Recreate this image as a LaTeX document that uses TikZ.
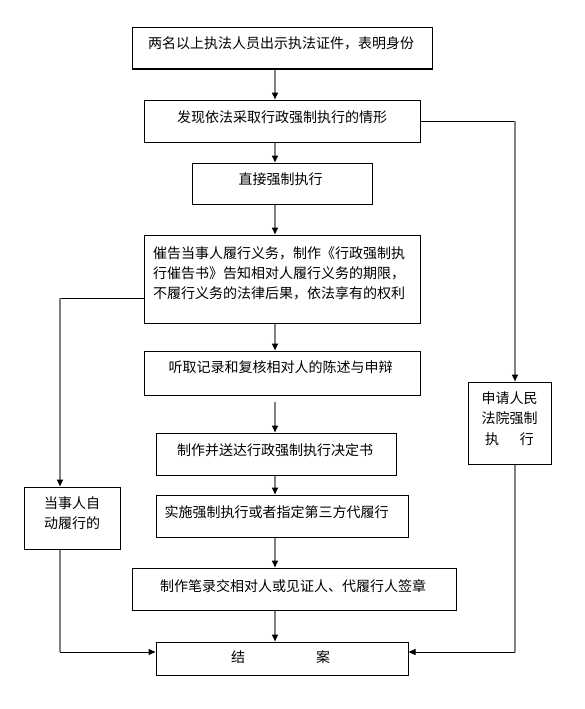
\documentclass[tikz,border=0pt]{standalone}
\usepackage{fontspec}
\setmainfont{Noto Sans CJK SC}
\usetikzlibrary{arrows.meta}
\definecolor{linegray}{HTML}{808080}
\begin{document}
\begin{tikzpicture}[x=1pt,y=-1pt,
  box/.style={draw=black,line width=1pt,inner sep=0pt},
  txt/.style={inner sep=0pt,font=\fontsize{14}{20}\selectfont,align=center},
  flow/.style={draw=linegray,line width=2pt,-{Triangle[length=7pt,width=6pt,color=black]}},
  grayline/.style={draw=linegray,line width=2pt},
  link/.style={draw=black,line width=1pt},
  linkarrow/.style={draw=black,line width=1pt,-{Triangle[length=7pt,width=6pt,color=black]}}]
\useasboundingbox (0,0) rectangle (584,709);
\fill[white] (0,0) rectangle (584,709);
% helper coordinates
\coordinate (mx) at (275,0);
\coordinate (rx) at (515,0);
\coordinate (lx) at (60,0);
\coordinate (yb) at (0,652);
% boxes
\node[box,minimum width=300pt,minimum height=41pt] (b1) at (282,48.5) {};
\node[box,minimum width=276pt,minimum height=42pt] (b2) at (282,121) {};
\node[box,minimum width=180pt,minimum height=41pt] (b3) at (282,183.5) {};
\node[box,minimum width=276pt,minimum height=88pt] (b4) at (282,279) {};
\node[box,minimum width=276pt,minimum height=44pt] (b5) at (282,373) {};
\node[box,minimum width=240pt,minimum height=42pt] (b6) at (276,454) {};
\node[box,minimum width=252pt,minimum height=42pt] (b7) at (282,516) {};
\node[box,minimum width=324pt,minimum height=42pt] (b8) at (294,589) {};
\node[box,minimum width=252pt,minimum height=33pt] (b9) at (282,658.5) {};
\node[box,minimum width=83pt,minimum height=82pt] (court) at (509.5,423) {};
\node[box,minimum width=96pt,minimum height=62pt] (self) at (72,518) {};
% texts
\node[txt] (t1) at (281,43) {两名以上执法人员出示执法证件，表明身份};
\node[txt] (t2) at (282,117) {发现依法采取行政强制执行的情形};
\node[txt] (t3) at (280.5,179) {直接强制执行};
\node[txt,align=left,anchor=west] (t4) at (153,273) {催告当事人履行义务，制作《行政强制执\\行催告书》告知相对人履行义务的期限，\\不履行义务的法律后果，依法享有的权利};
\node[txt] (t5) at (280.5,367) {听取记录和复核相对人的陈述与申辩};
\node[txt] (t6) at (275,450) {制作并送达行政强制执行决定书};
\node[txt] (t7) at (276.5,512) {实施强制执行或者指定第三方代履行};
\node[txt] (t8) at (293,586) {制作笔录交相对人或见证人、代履行人签章};
\node[txt] (t9) at (280.5,657) {结\hspace{71pt}案};
\node[txt,font=\fontsize{14}{20.5}\selectfont] (tc) at (509.5,418.5) {申请人民\\法院强制\\执\hspace{21pt}行};
\node[txt] (ts) at (72,513) {当事人自\\动履行的};
% main flow
\draw[flow] (b1.south -| mx) -- (b2.north -| mx);
\draw[flow] (b2.south -| mx) -- (b3.north -| mx);
\draw[flow] (b3.south -| mx) -- (b4.north -| mx);
\draw[flow] (b4.south -| mx) -- (b5.north -| mx);
\draw[flow,shorten <=6pt] (b5.south -| mx) -- (b6.north -| mx);
\draw[flow] (b6.south -| mx) -- (b7.north -| mx);
\draw[flow] (b7.south -| mx) -- (b8.north -| mx);
\draw[flow] (b8.south -| mx) -- (b9.north -| mx);
% right branch
\draw[link] (b2.east) -- (b2.east -| rx);
\draw[flow] (b2.east -| rx) -- (court.north -| rx);
\draw[grayline] (court.south -| rx) -- (rx |- yb);
\draw[linkarrow] (rx |- yb) -- (b9.east |- yb);
% left branch
\draw[link] ([yshift=-19pt]b4.west) -- ([yshift=-19pt]b4.west -| lx);
\draw[flow] ([yshift=-19pt]b4.west -| lx) -- (self.north -| lx);
\draw[grayline] (self.south -| lx) -- (lx |- yb);
\draw[linkarrow] (lx |- yb) -- (b9.west |- yb);
\end{tikzpicture}
\end{document}
